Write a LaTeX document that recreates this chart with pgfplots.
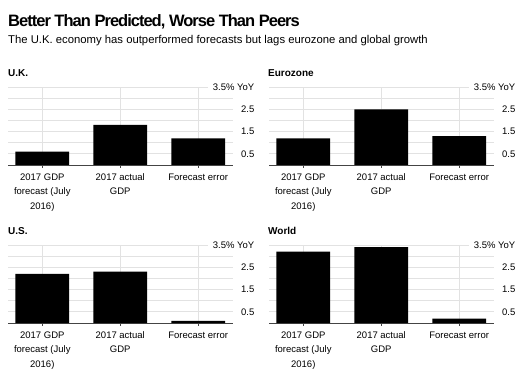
\documentclass[border=0pt]{standalone}
\usepackage{pgfplots}
\pgfplotsset{compat=1.18}
\usepackage{fontspec}
\setmainfont{Liberation Sans}
\newfontfamily\titlefont[LetterSpace=-6]{Liberation Sans Bold}
\definecolor{gridc}{HTML}{E2E2E2}
\definecolor{basec}{HTML}{444444}
\pgfplotsset{
  panel/.style={
    scale only axis, width=224.5bp, height=78bp,
    anchor=south west,
    xmin=-0.44, xmax=2.44, ymin=0, ymax=3.5,
    axis x line*=bottom, axis y line*=right,
    y axis line style={draw=none},
    x axis line style={draw=basec, line width=0.8bp},
    xtick={0,1,2},
    xticklabels={{2017 GDP\\forecast (July\\2016)},{2017 actual\\GDP},{Forecast error}},
    xticklabel style={align=center, font=\fontsize{9.5bp}{14.5bp}\selectfont, yshift=-2bp},
    xtick style={draw=basec, line width=0.8bp},
    tick align=outside, major tick length=3bp,
    ytick={0.5,1.5,2.5,3.5},
    yticklabels={0.5,1.5,2.5,{3.5\% YoY}},
    minor ytick={1,2,3},
    ytick style={draw=none}, minor tick length=0pt,
    grid=both, major grid style={draw=gridc, line width=0.8bp}, minor grid style={draw=gridc, line width=0.8bp},
    yticklabel style={font=\fontsize{9.5bp}{11bp}\selectfont, anchor=east, xshift=24bp, fill=white, inner xsep=5bp},
    /pgf/number format/assume math mode=true,
    ybar, bar width=0.69, bar shift=0pt,
    clip=false,
  }
}
\begin{document}
\begin{tikzpicture}
\useasboundingbox (0bp,0bp) rectangle (528bp,378bp);
\node[anchor=base west, inner sep=0pt, font=\titlefont\fontsize{16.5bp}{19bp}\selectfont] at (8bp,351bp) {Better Than Predicted, Worse Than Peers};
\node[anchor=base west, inner sep=0pt, font=\fontsize{11.3bp}{13bp}\selectfont] at (8bp,334.5bp) {The U.K. economy has outperformed forecasts but lags eurozone and global growth};
\node[anchor=base west, inner sep=0pt, font=\bfseries\fontsize{10bp}{12bp}\selectfont] at (8bp,301.5bp) {U.K.};
\node[anchor=base west, inner sep=0pt, font=\bfseries\fontsize{10bp}{12bp}\selectfont] at (268bp,301.5bp) {Eurozone};
\node[anchor=base west, inner sep=0pt, font=\bfseries\fontsize{10bp}{12bp}\selectfont] at (8bp,143bp) {U.S.};
\node[anchor=base west, inner sep=0pt, font=\bfseries\fontsize{10bp}{12bp}\selectfont] at (268bp,143bp) {World};
\begin{axis}[panel, at={(8bp,213bp)}]
\addplot[fill=black, draw=none] coordinates {(0,0.6) (1,1.8) (2,1.2)};
\end{axis}
\begin{axis}[panel, at={(269bp,213bp)}]
\addplot[fill=black, draw=none] coordinates {(0,1.2) (1,2.5) (2,1.3)};
\end{axis}
\begin{axis}[panel, at={(8bp,55bp)}]
\addplot[fill=black, draw=none] coordinates {(0,2.2) (1,2.3) (2,0.1)};
\end{axis}
\begin{axis}[panel, at={(269bp,55bp)}]
\addplot[fill=black, draw=none] coordinates {(0,3.2) (1,3.4) (2,0.2)};
\end{axis}
\end{tikzpicture}
\end{document}
